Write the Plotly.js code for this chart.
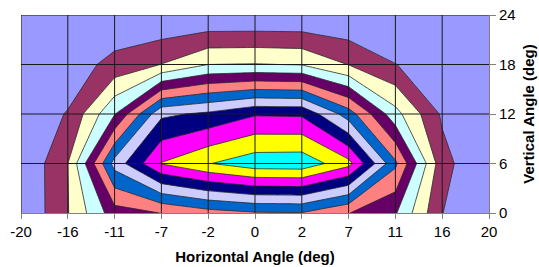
<!DOCTYPE html>
<html>
<head>
<meta charset="utf-8">
<script src="https://cdn.plot.ly/plotly-3.0.1.min.js"></script>
<style>
html,body{margin:0;padding:0;background:#fff;}
#chart{width:539px;height:267px;}
</style>
</head>
<body>
<div id="chart"></div>
<script>
// Horizontal angle categories (deg) and their axis labels
var hAngles = [-20, -15.5, -11, -6.5, -2, 0, 2, 6.5, 11, 15.5, 20];
var hLabels = ['-20', '-16', '-11', '-7', '-2', '0', '2', '7', '11', '16', '20'];
// Vertical angle series (deg)
var vAngles = [0, 6, 12, 18, 24];
// Values per vertical angle (one row per series), in contour-band units
var row0  = [0.00, 1.95, 4.56, 5.02, 5.60, 5.90, 5.95, 5.03, 4.10, 1.02, 0.00];
var row6  = [0.00, 1.99, 7.39, 10.05, 10.95, 11.60, 11.65, 10.33, 6.20, 1.35, 0.00];
var row12 = [0.46, 1.05, 3.95, 7.80, 8.20, 8.90, 8.85, 6.50, 3.35, 0.85, 0.00];
var row18 = [0.00, 0.50, 1.30, 2.02, 3.00, 3.05, 2.95, 1.97, 1.02, 0.50, 0.00];
var row24 = [0.00, 0.00, 0.20, 0.00, 0.00, 0.00, 0.00, 0.00, 0.00, 0.00, 0.00];
// Band colours (lowest to highest)
var bandColors = ['#9999FF', '#993366', '#FFFFCC', '#CCFFFF', '#660066', '#FF8080',
                  '#0066CC', '#CCCCFF', '#000080', '#FF00FF', '#FFFF00', '#00FFFF'];

var nb = bandColors.length;
var cs = [];
for (var k = 0; k < nb; k++) {
  cs.push([k / nb, bandColors[k]]);
  cs.push([(k + 1) / nb, bandColors[k]]);
}
var idx = hAngles.map(function (d, i) { return i; });

var trace = {
  type: 'contour',
  x: idx,
  y: vAngles,
  z: [row0, row6, row12, row18, row24],
  zmin: 0, zmax: nb, zauto: false,
  colorscale: cs,
  showscale: false,
  contours: { start: 1, end: nb - 1, size: 1, coloring: 'fill', showlines: true },
  line: { color: '#2a2a2a', width: 0.8, smoothing: 0 },
  hoverinfo: 'skip'
};

var shapes = [];
idx.slice(0, idx.length - 1).forEach(function (i) {
  shapes.push({ type: 'line', xref: 'x', yref: 'y', x0: i, x1: i, y0: vAngles[0], y1: vAngles[vAngles.length - 1],
    line: { color: '#1a1a1a', width: 1 }, layer: 'above' });
});
vAngles.slice(1).forEach(function (v) {
  shapes.push({ type: 'line', xref: 'x', yref: 'y', x0: idx[0], x1: idx[idx.length - 1], y0: v, y1: v,
    line: { color: '#1a1a1a', width: 1 }, layer: 'above' });
});

var font = { family: 'Liberation Sans, Arial, sans-serif', size: 15, color: '#000' };

var layout = {
  width: 539, height: 267,
  margin: { l: 21, r: 50, t: 15, b: 54 },
  paper_bgcolor: '#fff', plot_bgcolor: '#9999FF',
  font: font,
  showlegend: false,
  xaxis: {
    range: [idx[0], idx[idx.length - 1]],
    tickvals: idx, ticktext: hLabels,
    ticks: 'outside', ticklen: 5, tickcolor: '#808080', tickwidth: 1,
    showline: true, linecolor: '#808080', linewidth: 1,
    showgrid: false, zeroline: false, layer: 'above traces',
    tickfont: font,
    title: { text: '<b>Horizontal Angle (deg)</b>', font: font, standoff: 12 }
  },
  yaxis: {
    side: 'right',
    range: [vAngles[0], vAngles[vAngles.length - 1]],
    tickvals: vAngles,
    ticks: 'outside', ticklen: 6, tickcolor: '#808080', tickwidth: 1,
    showline: true, linecolor: '#808080', linewidth: 1,
    showgrid: false, zeroline: false, layer: 'above traces',
    tickfont: font,
    title: { text: '<b>Vertical Angle (deg)</b>', font: font, standoff: 8 }
  },
  shapes: shapes
};

Plotly.newPlot('chart', [trace], layout, { staticPlot: true, displayModeBar: false });
</script>
</body>
</html>
